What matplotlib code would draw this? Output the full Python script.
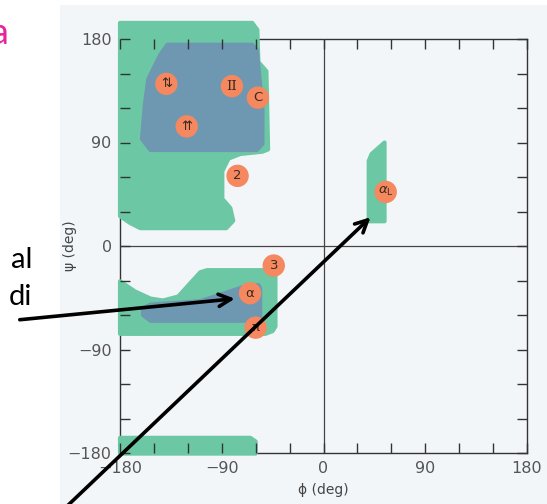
import matplotlib
matplotlib.use('Agg')
from matplotlib import pyplot as plt
from matplotlib.patches import Polygon, Rectangle

# sterically allowed regions, (phi, psi) in degrees
beta_green_phi = [-180, -63, -58.5, -57.6, -50.5, -49, -54, -73.6, -84, -89.5, -89.5, -82.4, -79.8, -86, -162, -171, -180]
beta_green_psi = [194, 194, 188, 160, 152, 84, 82, 80, 76, 65, 41, 33, 22, 15.5, 15.5, 20, 26]

beta_blue_phi = [-138, -63, -59, -54, -54, -59, -153, -160.5, -158, -155, -144.5]
beta_blue_psi = [175, 175, 170.5, 119, 89, 83.5, 83.5, 93, 123, 145, 166]

alpha_green_phi = [-180, -166.7, -153, -142, -128.5, -118, -109, -103, -46, -42.5, -42.5, -45, -51.4, -180]
alpha_green_psi = [-30.7, -39.5, -45.7, -47.4, -43.9, -32.5, -22.8, -21, -21, -24.6, -70, -74, -76.4, -76.4]

alpha_blue_phi = [-159.6, -153, -109, -87, -69, -57.6, -56, -56, -153, -159.6]
alpha_blue_psi = [-54.4, -51, -48, -41, -35, -34, -37, -65, -65, -60]

strip_phi = [-180, -64.7, -60, -60, -180]
strip_psi = [-166.8, -166.8, -170, -180.5, -180.5]

alphaL_phi = [40, 40, 42.5, 54, 54]
alphaL_psi = [21.5, 74, 80, 90, 21.5]

# labelled conformations
conf_labels = ['⇅', 'II', 'C', '⇈', '2', '3', 'α', 'π', r'$\alpha_{\rm L}$']
conf_phi = [-139, -81, -58, -121, -76, -44, -65, -60, 55]
conf_psi = [141, 139, 129, 104, 61, -17, -41, -71, 47]

green = '#6cc7a4'
blue = '#6e97b2'
orange = '#f5885e'

fig = plt.figure(figsize=(5.47, 5.04), dpi=100)
fig.patch.set_facecolor('white')
# scanned page behind the plot
fig.add_artist(Rectangle((60 / 547, 0), 1, 499 / 504, transform=fig.transFigure,
                         facecolor='#f3f6f9', edgecolor='none', zorder=-1))

ax = fig.add_axes([120 / 547, 51 / 504, 407 / 547, 414 / 504])
ax.set_facecolor('none')
ax.set_xlim(-180, 180)
ax.set_ylim(-180, 180)

for px, py, c in [(beta_green_phi, beta_green_psi, green),
                  (alpha_green_phi, alpha_green_psi, green),
                  (strip_phi, strip_psi, green),
                  (alphaL_phi, alphaL_psi, green),
                  (beta_blue_phi, beta_blue_psi, blue),
                  (alpha_blue_phi, alpha_blue_psi, blue)]:
    ax.add_patch(Polygon(list(zip(px, py)), closed=True, facecolor=c, edgecolor=c,
                         linewidth=3, joinstyle='round', clip_on=False, zorder=1))

ax.axhline(0, color='#444444', lw=0.9, zorder=1.5)
ax.axvline(0, color='#444444', lw=0.9, zorder=1.5)

ax.scatter(conf_phi, conf_psi, s=260, color=orange, edgecolors='none', zorder=3, clip_on=False)
for lab, x, y in zip(conf_labels, conf_phi, conf_psi):
    fam = 'DejaVu Serif' if lab == 'II' else 'DejaVu Sans'
    ax.text(x, y, lab, ha='center', va='center', fontsize=9.5, color='#3a2a20',
            family=fam, zorder=4)

for s in ax.spines.values():
    s.set_color('#333333')
    s.set_linewidth(1)
    s.set_zorder(0.5)

ax.set_xticks([-180, -90, 0, 90, 180])
ax.set_yticks([-180, -90, 0, 90, 180])
ax.set_xticks(range(-180, 181, 30), minor=True)
ax.set_yticks(range(-180, 181, 30), minor=True)
ax.set_xticklabels(['\u2212180', '\u221290', '0', '90', '180'])
ax.set_yticklabels(['\u2212180', '\u221290', '0', '90', '180'])
ax.tick_params(which='both', direction='in', top=True, right=True, length=7,
               width=1, color='#333333', labelsize=11.5, labelcolor='#555555')
ax.tick_params(which='major', pad=6)
ax.set_xlabel('ϕ (deg)', fontsize=10, color='#444444')
ax.set_ylabel('ψ (deg)', fontsize=10, color='#444444')
ax.xaxis.set_label_coords(0.5, -0.072)
ax.yaxis.set_label_coords(-0.105, 0.5)

# overlaid slide annotations
arrow = dict(arrowstyle='->', color='black', lw=2.6, mutation_scale=22)
ax.annotate('', xy=(-76, -45.6), xycoords='data', xytext=(17, 184),
            textcoords='figure pixels', arrowprops=arrow, annotation_clip=False, zorder=6)
ax.annotate('', xy=(43.4, 26.7), xycoords='data', xytext=(63, -6),
            textcoords='figure pixels', arrowprops=arrow, annotation_clip=False, zorder=6)
fig.text(11 / 547, (504 - 268) / 504, 'al', fontsize=21, color='black', family='Lato')
fig.text(9 / 547, (504 - 305) / 504, 'di', fontsize=21, color='black', family='Lato')
fig.text(9 / 547, (504 - 44) / 504, 'a', fontsize=26, color='#e6239a', ha='right', family='Lato')

fig.savefig('out.png', dpi=100)
